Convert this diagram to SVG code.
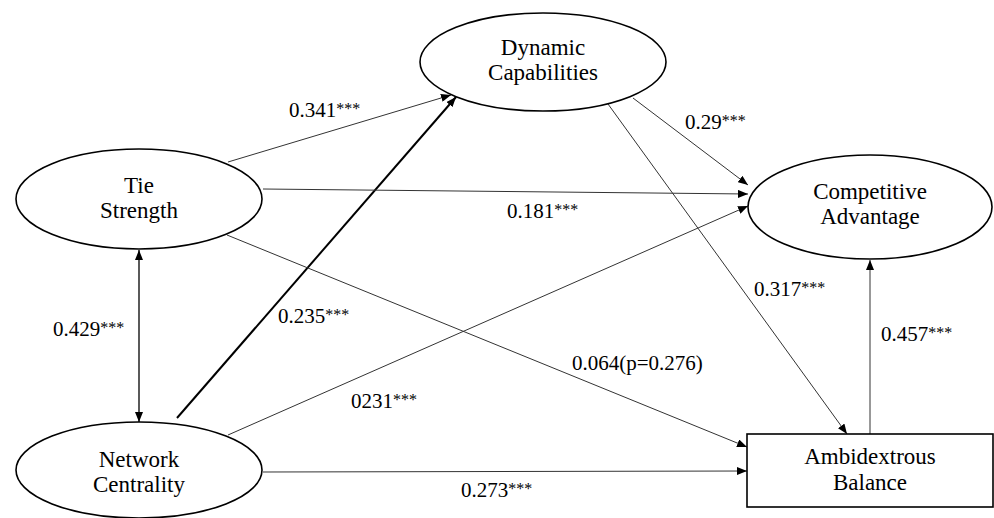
<svg xmlns="http://www.w3.org/2000/svg" width="994" height="518" viewBox="0 0 994 518">
<style>
.node{fill:#fff;stroke:#000;stroke-width:1.6}
.nt{font-family:"Liberation Serif","Times New Roman",serif;font-size:23px;fill:#000;text-anchor:middle}
.lbl{font-family:"Liberation Serif","Times New Roman",serif;font-size:21px;fill:#000}
.ast{font-size:16px}
.c{stroke:#333;stroke-width:1;fill:none;marker-end:url(#ah)}
.thick{stroke:#000;stroke-width:2}
</style>
<defs>
<marker id="ah" viewBox="0 0 10 8" refX="10" refY="4" markerWidth="10" markerHeight="8" markerUnits="userSpaceOnUse" orient="auto-start-reverse">
<path d="M0,0 L10,4 L0,8 z" fill="#000"/>
</marker>
</defs>
<rect width="994" height="518" fill="#fff"/>
<g id="connectors">
<line class="c" x1="228" y1="162" x2="451" y2="95"/>
<line class="c thick" x1="177" y1="418" x2="456" y2="97"/>
<line class="c" x1="263" y1="189" x2="748" y2="194"/>
<line class="c" x1="633" y1="98" x2="748" y2="185"/>
<line class="c" x1="228" y1="435" x2="748" y2="206"/>
<line class="c" x1="227" y1="235" x2="747" y2="447"/>
<line class="c" x1="608" y1="104" x2="847" y2="434"/>
<line class="c" x1="263" y1="472" x2="747" y2="471"/>
<line class="c" x1="870" y1="434" x2="870" y2="260"/>
<line class="c" x1="139" y1="250" x2="139" y2="422" style="marker-start:url(#ah);stroke:#000;stroke-width:1.3"/>
</g>
<g id="labels">
<text class="lbl" x="289" y="117">0.341<tspan class="ast" dy="-3">***</tspan></text>
<text class="lbl" x="685" y="129">0.29<tspan class="ast" dy="-3">***</tspan></text>
<text class="lbl" x="507" y="218">0.181<tspan class="ast" dy="-3">***</tspan></text>
<text class="lbl" x="53" y="336">0.429<tspan class="ast" dy="-3">***</tspan></text>
<text class="lbl" x="278" y="323">0.235<tspan class="ast" dy="-3">***</tspan></text>
<text class="lbl" x="351" y="408">0231<tspan class="ast" dy="-3">***</tspan></text>
<text class="lbl" x="461" y="497">0.273<tspan class="ast" dy="-3">***</tspan></text>
<text class="lbl" x="754" y="296">0.317<tspan class="ast" dy="-3">***</tspan></text>
<text class="lbl" x="881" y="341">0.457<tspan class="ast" dy="-3">***</tspan></text>
<text class="lbl" x="572" y="370">0.064(p=0.276)</text>
</g>
<g id="dynamic-capabilities">
<ellipse class="node" cx="543" cy="62" rx="123" ry="49"/>
<text class="nt" x="543" y="55">Dynamic</text>
<text class="nt" x="543" y="80">Capabilities</text>
</g>
<g id="tie-strength">
<ellipse class="node" cx="139" cy="199" rx="123" ry="50"/>
<text class="nt" x="139" y="193">Tie</text>
<text class="nt" x="139" y="218">Strength</text>
</g>
<g id="competitive-advantage">
<ellipse class="node" cx="870" cy="207" rx="122" ry="52"/>
<text class="nt" x="870" y="199">Competitive</text>
<text class="nt" x="870" y="224">Advantage</text>
</g>
<g id="network-centrality">
<ellipse class="node" cx="139" cy="470" rx="123" ry="48"/>
<text class="nt" x="139" y="467">Network</text>
<text class="nt" x="139" y="492">Centrality</text>
</g>
<g id="ambidextrous-balance">
<rect class="node" x="747" y="434" width="246" height="73"/>
<text class="nt" x="870" y="464">Ambidextrous</text>
<text class="nt" x="870" y="490">Balance</text>
</g>
</svg>
